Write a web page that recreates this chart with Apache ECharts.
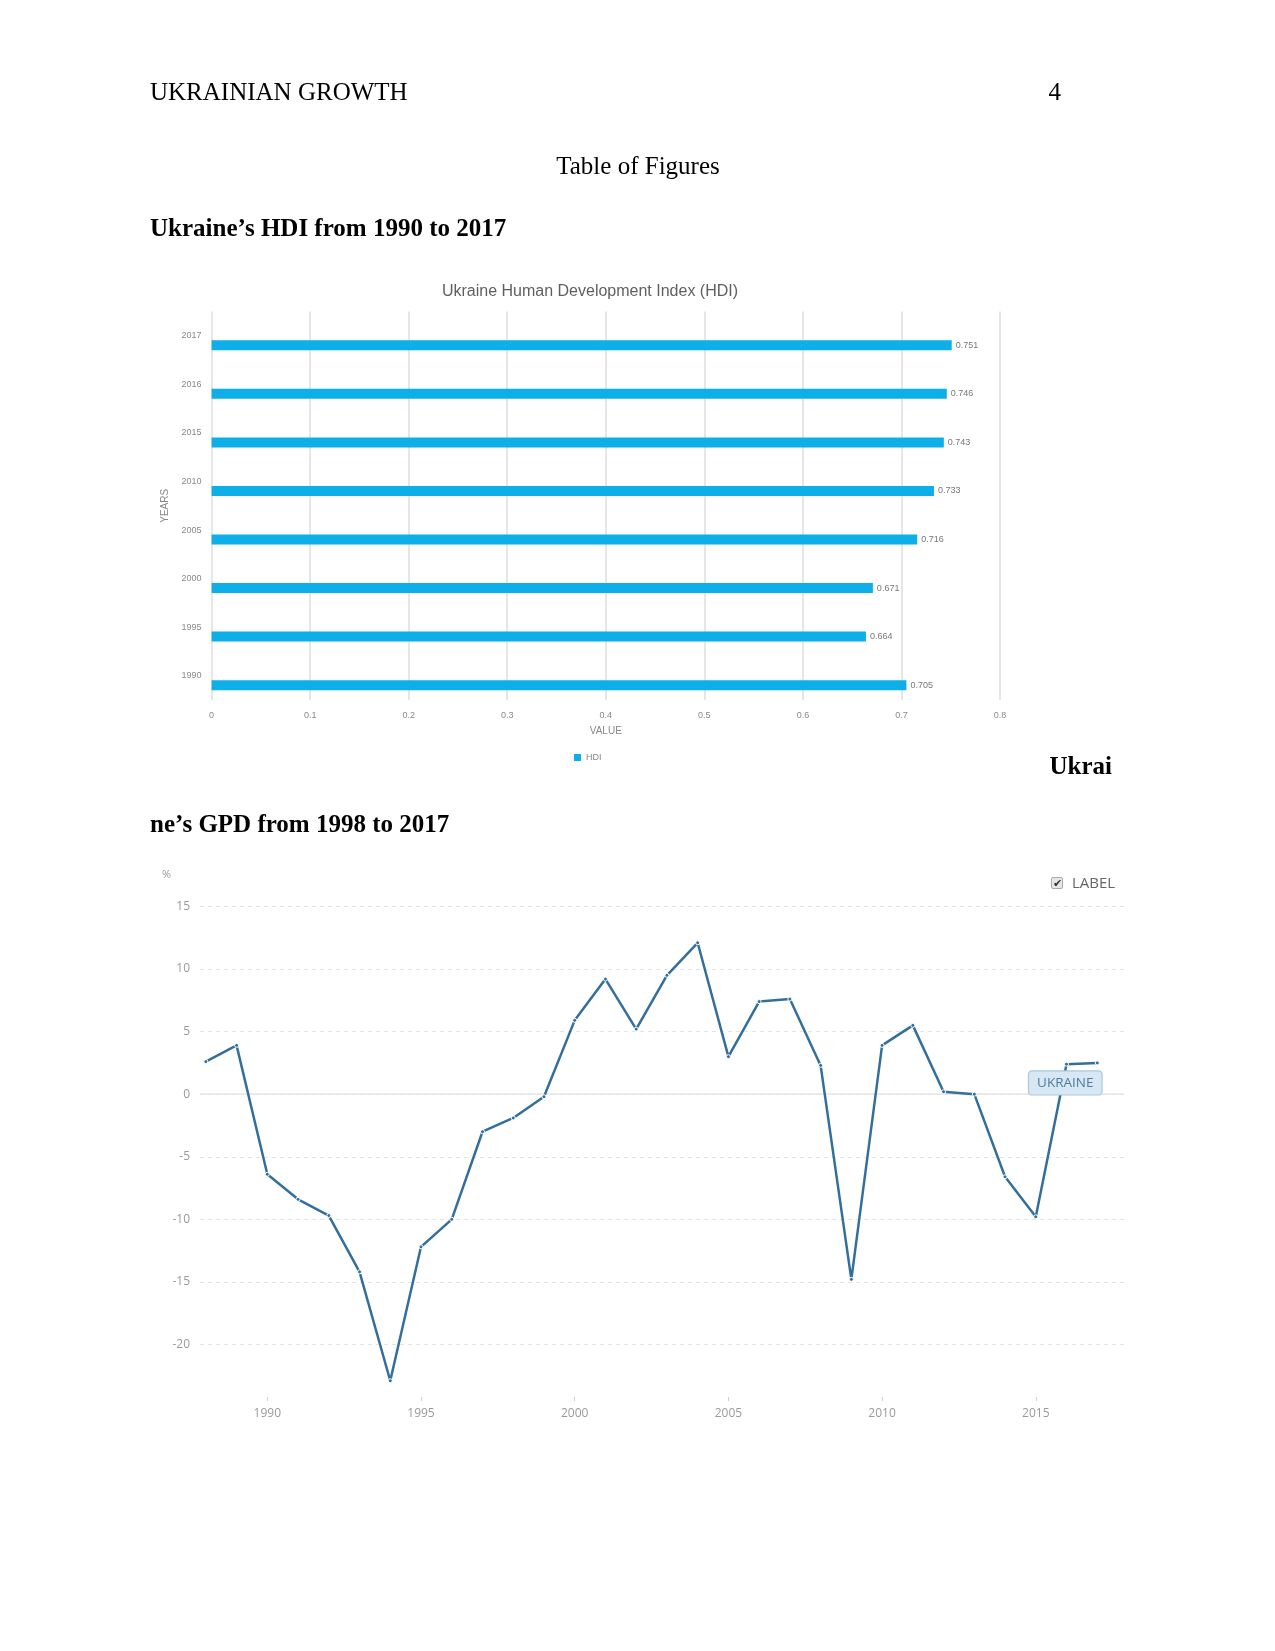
<!DOCTYPE html>
<html>
<head>
<meta charset="utf-8">
<script src="https://cdn.jsdelivr.net/npm/echarts@6/dist/echarts.min.js"></script>
<style>
  html, body { margin: 0; padding: 0; background: #fff; }
  #page { position: relative; width: 1275px; height: 1651px; overflow: hidden; background: #fff; }
  #chart { position: absolute; left: 0; top: 0; width: 1275px; height: 1651px; }
  .t { position: absolute; font-family: "Liberation Serif", "Times New Roman", serif; font-size: 25px; line-height: 30px; color: #000; white-space: nowrap; }
  .b { font-weight: bold; }
  #lbl { position: absolute; left: 1051px; top: 873px; font-family: "Open Sans", sans-serif; font-size: 15px; color: #666; line-height: 18px; white-space: nowrap; }
  #lbl .box { display: inline-block; width: 10px; height: 10px; border: 1px solid #aaa; border-radius: 2px; background: #e6e6e6; vertical-align: -1px; margin-right: 9px; position: relative; }
  #lbl .box span { position: absolute; left: 1px; top: -4px; font-size: 11px; color: #333; }
</style>
</head>
<body>
<div id="page">
  <div id="chart"></div>
  <div class="t" style="left:150px; top:77px;">UKRAINIAN GROWTH</div>
  <div class="t" style="right:214px; top:77px;">4</div>
  <div class="t" style="left:0; width:1276px; text-align:center; top:151px;">Table of Figures</div>
  <div class="t b" style="left:150px; top:213px;">Ukraine’s HDI from 1990 to 2017</div>
  <div class="t b" style="right:163px; top:751px;">Ukrai</div>
  <div class="t b" style="left:150px; top:809px;">ne’s GPD from 1998 to 2017</div>
  <div id="lbl"><span class="box"><span>✔</span></span>LABEL</div>
</div>
<script>
// ---- HDI chart data ----
const hdiYears = ['1990', '1995', '2000', '2005', '2010', '2015', '2016', '2017'];
const hdiValues = [0.705, 0.664, 0.671, 0.716, 0.733, 0.743, 0.746, 0.751];

// ---- GDP growth chart data ----
const gdpYears = [1988, 1989, 1990, 1991, 1992, 1993, 1994, 1995, 1996, 1997,
                  1998, 1999, 2000, 2001, 2002, 2003, 2004, 2005, 2006, 2007,
                  2008, 2009, 2010, 2011, 2012, 2013, 2014, 2015, 2016, 2017];
const gdpGrowth = [2.6, 3.9, -6.4, -8.4, -9.7, -14.2, -22.9, -12.2, -10.0, -3.0,
                   -1.9, -0.2, 5.9, 9.2, 5.2, 9.5, 12.1, 3.0, 7.4, 7.6,
                   2.3, -14.8, 3.9, 5.5, 0.2, 0.0, -6.6, -9.8, 2.4, 2.5];
const gdpTickYears = [1990, 1995, 2000, 2005, 2010, 2015];
const seriesLabel = 'UKRAINE';

const chart = echarts.init(document.getElementById('chart'), null, { renderer: 'canvas' });

const gdpData = gdpYears.map((y, i) => {
  if (i === gdpYears.length - 1) {
    return {
      value: [y, gdpGrowth[i]],
      label: {
        show: true, formatter: seriesLabel, position: 'inside', offset: [-32, 20],
        fontFamily: 'Open Sans', fontSize: 13.5, color: '#4d7ca3',
        backgroundColor: '#d7e7f3', borderColor: '#a9c7de', borderWidth: 1.2, borderRadius: 3,
        padding: [5, 8, 4, 8]
      }
    };
  }
  return [y, gdpGrowth[i]];
});

chart.setOption({
  animation: false,
  textStyle: { fontFamily: 'Liberation Sans' },
  title: [{
    text: 'Ukraine Human Development Index (HDI)',
    left: 585, top: 279, textAlign: 'center',
    textStyle: { fontFamily: 'Liberation Sans', fontSize: 16, fontWeight: 'normal', color: '#5f5f5f' }
  }],
  legend: [{
    data: ['HDI'], left: 569, top: 748, icon: 'rect', itemWidth: 7, itemHeight: 7, itemGap: 4,
    textStyle: { fontFamily: 'Liberation Sans', fontSize: 9, color: '#888' }
  }],
  grid: [
    { left: 211.6, top: 311.6, width: 788.4, height: 388.4 },
    { left: 200, top: 906.5, width: 924, height: 500.5 }
  ],
  xAxis: [
    {
      gridIndex: 0, type: 'value', min: 0, max: 0.8, interval: 0.1,
      axisLine: { show: false }, axisTick: { show: false },
      splitLine: { show: true, lineStyle: { color: '#dedede', width: 1.5 } },
      axisLabel: { fontSize: 9, color: '#888', margin: 11 },
      name: 'VALUE', nameLocation: 'middle', nameGap: 26,
      nameTextStyle: { fontSize: 10, color: '#888' }
    },
    {
      gridIndex: 1, type: 'value', min: 1987.81, max: 2017.87, offset: -10,
      axisLine: { show: false, onZero: false },
      splitLine: { show: false },
      axisTick: { show: true, inside: false, length: 4, customValues: gdpTickYears, lineStyle: { color: '#cfcfcf' } },
      axisLabel: { customValues: gdpTickYears, formatter: v => String(Math.round(v)), fontFamily: 'Open Sans', fontSize: 12, color: '#9a9a9a', margin: 11 }
    }
  ],
  yAxis: [
    {
      gridIndex: 0, type: 'category', data: hdiYears,
      axisLine: { show: false }, axisTick: { show: false },
      axisLabel: { fontSize: 9, color: '#888', margin: 10 },
      name: 'YEARS', nameLocation: 'middle', nameGap: 36, nameRotate: 90,
      nameTextStyle: { fontSize: 10, color: '#888' }
    },
    {
      gridIndex: 1, type: 'value', min: -25, max: 15, interval: 5,
      axisLine: { show: false }, axisTick: { show: false },
      splitLine: { show: true, showMinLine: false, lineStyle: { type: [4, 4], color: '#e4e4e4', width: 1 } },
      axisLabel: { showMinLabel: false, fontFamily: 'Open Sans', fontSize: 12, color: '#9a9a9a', margin: 10 },
      name: '%', nameLocation: 'end', nameGap: 26,
      nameTextStyle: { fontFamily: 'Open Sans', fontSize: 11, color: '#9a9a9a', align: 'right', padding: [0, 29, 0, 0] }
    }
  ],
  series: [
    {
      type: 'bar', name: 'pad', xAxisIndex: 0, yAxisIndex: 0, data: [],
      barWidth: 10, barGap: '88%', silent: true
    },
    {
      type: 'bar', name: 'HDI', xAxisIndex: 0, yAxisIndex: 0, data: hdiValues,
      barWidth: 10, barGap: '88%',
      itemStyle: { color: '#0eaee8' },
      label: { show: true, position: 'right', distance: 4, fontSize: 9, color: '#777',
               formatter: p => p.value.toFixed(3) }
    },
    {
      type: 'line', name: 'Ukraine', xAxisIndex: 1, yAxisIndex: 1, data: gdpData,
      symbol: 'circle', symbolSize: 4, showAllSymbol: true,
      lineStyle: { color: '#336f9c', width: 2.5 },
      itemStyle: { color: '#336f9c', borderColor: '#ffffff', borderWidth: 1 },
      z: 3,
      markLine: {
        silent: true, symbol: 'none', z: 1,
        label: { show: false },
        lineStyle: { type: 'solid', color: '#e6e6e6', width: 1.5 },
        data: [{ yAxis: 0 }]
      }
    }
  ]
});
</script>
</body>
</html>
